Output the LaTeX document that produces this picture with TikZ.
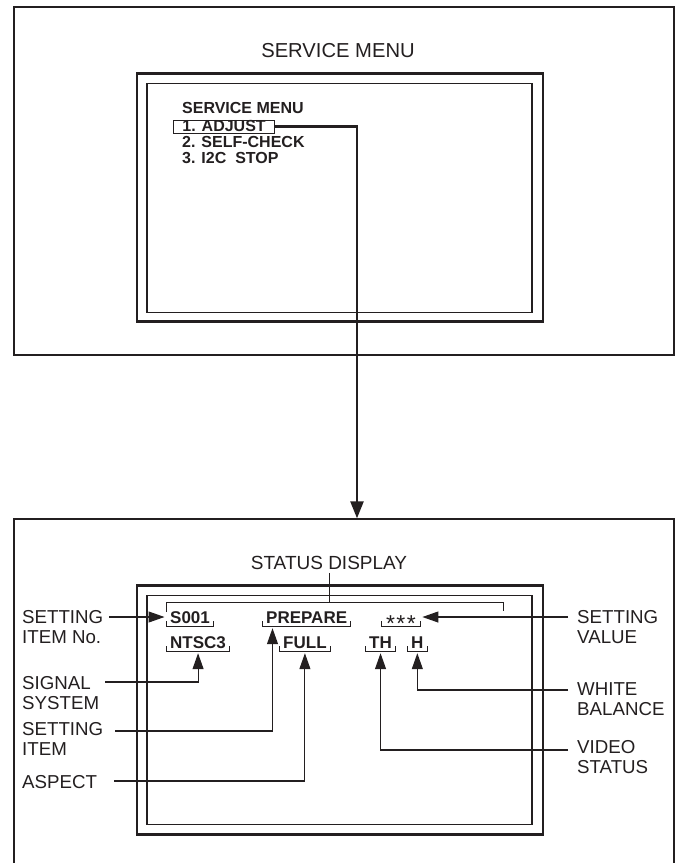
\documentclass[tikz,border=0pt]{standalone}
\usepackage{fontspec}
\setmainfont{Liberation Sans}
\usetikzlibrary{arrows.meta}
\definecolor{SMInk}{HTML}{231F20}

\begin{document}
\begin{tikzpicture}[x=1pt,y=-1pt,
    panel/.style={draw=SMInk,line width=1.3pt,minimum width=660pt},
    screen/.style={draw=SMInk,line width=2.8pt,minimum width=406pt,minimum height=248.5pt},
    glass/.style={draw=SMInk,line width=1.2pt,minimum width=385pt,minimum height=229pt},
    caption/.style={font=\fontsize{19}{21}\selectfont,text=SMInk,inner sep=0pt},
    callout/.style={font=\fontsize{18.7}{20}\selectfont,text=SMInk,inner sep=0pt,align=left,anchor=north west},
    menuline/.style={font=\bfseries\fontsize{16}{16}\selectfont,text=SMInk,inner sep=0pt,anchor=base west},
    field/.style={font=\bfseries\fontsize{17}{17}\selectfont,text=SMInk,inner xsep=3.5pt,inner ysep=3pt,text height=12pt,text depth=0pt,anchor=base west},
    tickline/.style={draw=SMInk,line width=0.9pt},
    pointer/.style={draw=SMInk,line width=1.1pt,-{Triangle[length=16pt,width=11pt]},shorten >=2pt},
    mainlink/.style={draw=SMInk,line width=2.4pt,-{Triangle[length=17pt,width=13pt]}}]
    \useasboundingbox (0,0) rectangle (678,863);
    \clip (0,0) rectangle (678,863);

    \node[panel,minimum height=348pt] (upper) at (344,181) {};
    \node[screen] (menuscr) at (340,197.5) {};
    \node[glass] (menuglass) at (339.5,198) {};
    \node[caption,font=\fontsize{20.2}{22}\selectfont] (menutitle) at (338,51) {SERVICE MENU};
    \node[menuline] (menuhead) at (182,113) {SERVICE MENU};
    \node[menuline,draw=SMInk,line width=0.9pt,inner xsep=9pt,inner ysep=0pt,text height=11.5pt,text depth=1.5pt] (adjust) at (173,131.5) {1. ADJUST\hspace{4pt}};
    \node[menuline] (selfcheck) at (182,147.5) {2. SELF-CHECK};
    \node[menuline] (i2cstop) at (182,163.5) {3. I2C~~STOP};

    \node[panel,minimum height=361pt] (lower) at (344,699.5) {};
    \node[screen] (statscr) at (340,710) {};
    \node[glass] (statglass) at (339.5,710) {};
    \draw[mainlink] (adjust.east) -| ([xshift=13pt]lower.north);

    \node[caption] (status) at (329,563) {STATUS DISPLAY};
    \coordinate (brl) at (166,602);
    \coordinate (brr) at (503,602);
    \draw[tickline] ([yshift=-10pt]brl) -- (brl) -- (brr) -- ([yshift=-9pt]brr);
    \draw[tickline,shorten <=3pt] (status.south) -- (status.south |- brl);

    \node[field] (s001) at (166.5,623) {S001};
    \node[field] (prep) at (262.5,623) {PREPARE};
    \node[field,minimum width=38.5pt] (val) at (381.5,623) {\mdseries\fontsize{23}{23}\selectfont\raisebox{-8.5pt}{*\kern1.5pt*\kern1.5pt*}};
    \node[field] (ntsc) at (166.5,648) {NTSC3};
    \node[field] (full) at (279.5,648) {FULL};
    \node[field] (th) at (365.5,648) {TH};
    \node[field] (hval) at (407.5,648) {H};
    \foreach \f in {s001,prep,val,ntsc,full,th,hval}
      \draw[tickline] ([yshift=5pt]\f.south west) |- (\f.south) -| ([yshift=5pt]\f.south east);

    \node[callout] (itemno) at (22,610) {SETTING\\ITEM No.};
    \node[callout] (sigsys) at (22,676) {SIGNAL\\SYSTEM};
    \node[callout] (setitem) at (22,722) {SETTING\\ITEM};
    \node[callout] (aspect) at (22,775) {ASPECT};
    \node[callout] (setval) at (577,610) {SETTING\\VALUE};
    \node[callout] (whitebal) at (577,682) {WHITE\\BALANCE};
    \node[callout] (vidstat) at (577,740) {VIDEO\\STATUS};

    \draw[pointer] ([xshift=6pt]itemno.east |- s001.west) -- (s001.west);
    \draw[pointer] ([shift={(6,6)}]sigsys.north east) -| (ntsc.south);
    \draw[pointer] ([shift={(12,9)}]setitem.north east) -| ([xshift=10pt]prep.south west);
    \draw[pointer] ([shift={(17,6)}]aspect.north east) -| (full.south);
    \draw[pointer] ([xshift=-9pt]setval.west |- val.east) -- (val.east);
    \draw[pointer] ([shift={(-9,8)}]whitebal.north west) -| (hval.south);
    \draw[pointer] ([shift={(-9,10)}]vidstat.north west) -| (th.south);
\end{tikzpicture}
\end{document}
